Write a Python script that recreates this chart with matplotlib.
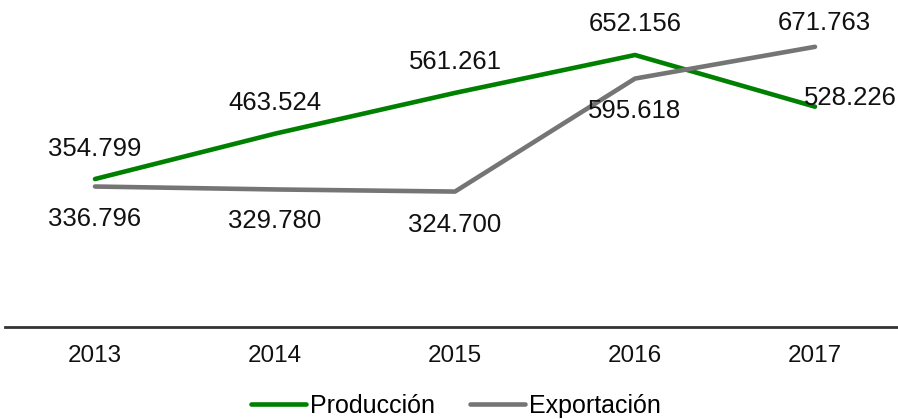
import matplotlib
matplotlib.use("Agg")
import matplotlib.pyplot as plt

years = ["2013", "2014", "2015", "2016", "2017"]
produccion = [354.799, 463.524, 561.261, 652.156, 528.226]
exportacion = [336.796, 329.780, 324.700, 595.618, 671.763]
prod_labels = ["354.799", "463.524", "561.261", "652.156", "528.226"]
exp_labels = ["336.796", "329.780", "324.700", "595.618", "671.763"]

# label offsets in pixels (style only)
prod_off = [(0, 30), (0, 31), (0, 31), (0, 31), (35, 9)]
exp_off = [(0, -32), (0, -32), (0, -33), (0, -32), (9, 24)]

W, H = 898, 419
fig = plt.figure(figsize=(W / 100, H / 100), dpi=100)
ax = fig.add_axes([5 / W, 92 / H, 900 / W, 327 / H])
x = list(range(len(years)))

green = "#008000"
gray = "#757575"
ax.plot(x, produccion, color=green, lw=3.3, solid_capstyle="round", label="Producción")
ax.plot(x, exportacion, color=gray, lw=3.3, solid_capstyle="round", label="Exportación")

font = "Liberation Sans"
for xi, v, lab, off in zip(x, produccion, prod_labels, prod_off):
    ax.annotate(lab, (xi, v), xytext=off, textcoords="offset pixels",
                ha="center", va="center", fontsize=18.5, family=font, color="#111111")
for xi, v, lab, off in zip(x, exportacion, exp_labels, exp_off):
    ax.annotate(lab, (xi, v), xytext=off, textcoords="offset pixels",
                ha="center", va="center", fontsize=18.5, family=font, color="#111111")

ax.set_xlim(-0.5, 4.5)
ax.set_ylim(0, 784)
ax.set_xticks(x)
ax.set_xticklabels(years, fontsize=17.5, family=font, color="#111111")
ax.set_yticks([])
ax.tick_params(axis="x", length=0, pad=13)
for s in ["top", "left", "right"]:
    ax.spines[s].set_visible(False)
ax.spines["bottom"].set_color("#333333")
ax.spines["bottom"].set_linewidth(2.0)
ax.patch.set_alpha(0)

leg = fig.legend(loc="center", bbox_to_anchor=(456 / W, 1 - 406 / H), ncol=2,
                 frameon=False, prop={"family": font, "size": 18},
                 handlelength=2.2, handletextpad=0.15, columnspacing=1.4,
                 borderpad=0.0)

fig.savefig("out.png", dpi=100)
